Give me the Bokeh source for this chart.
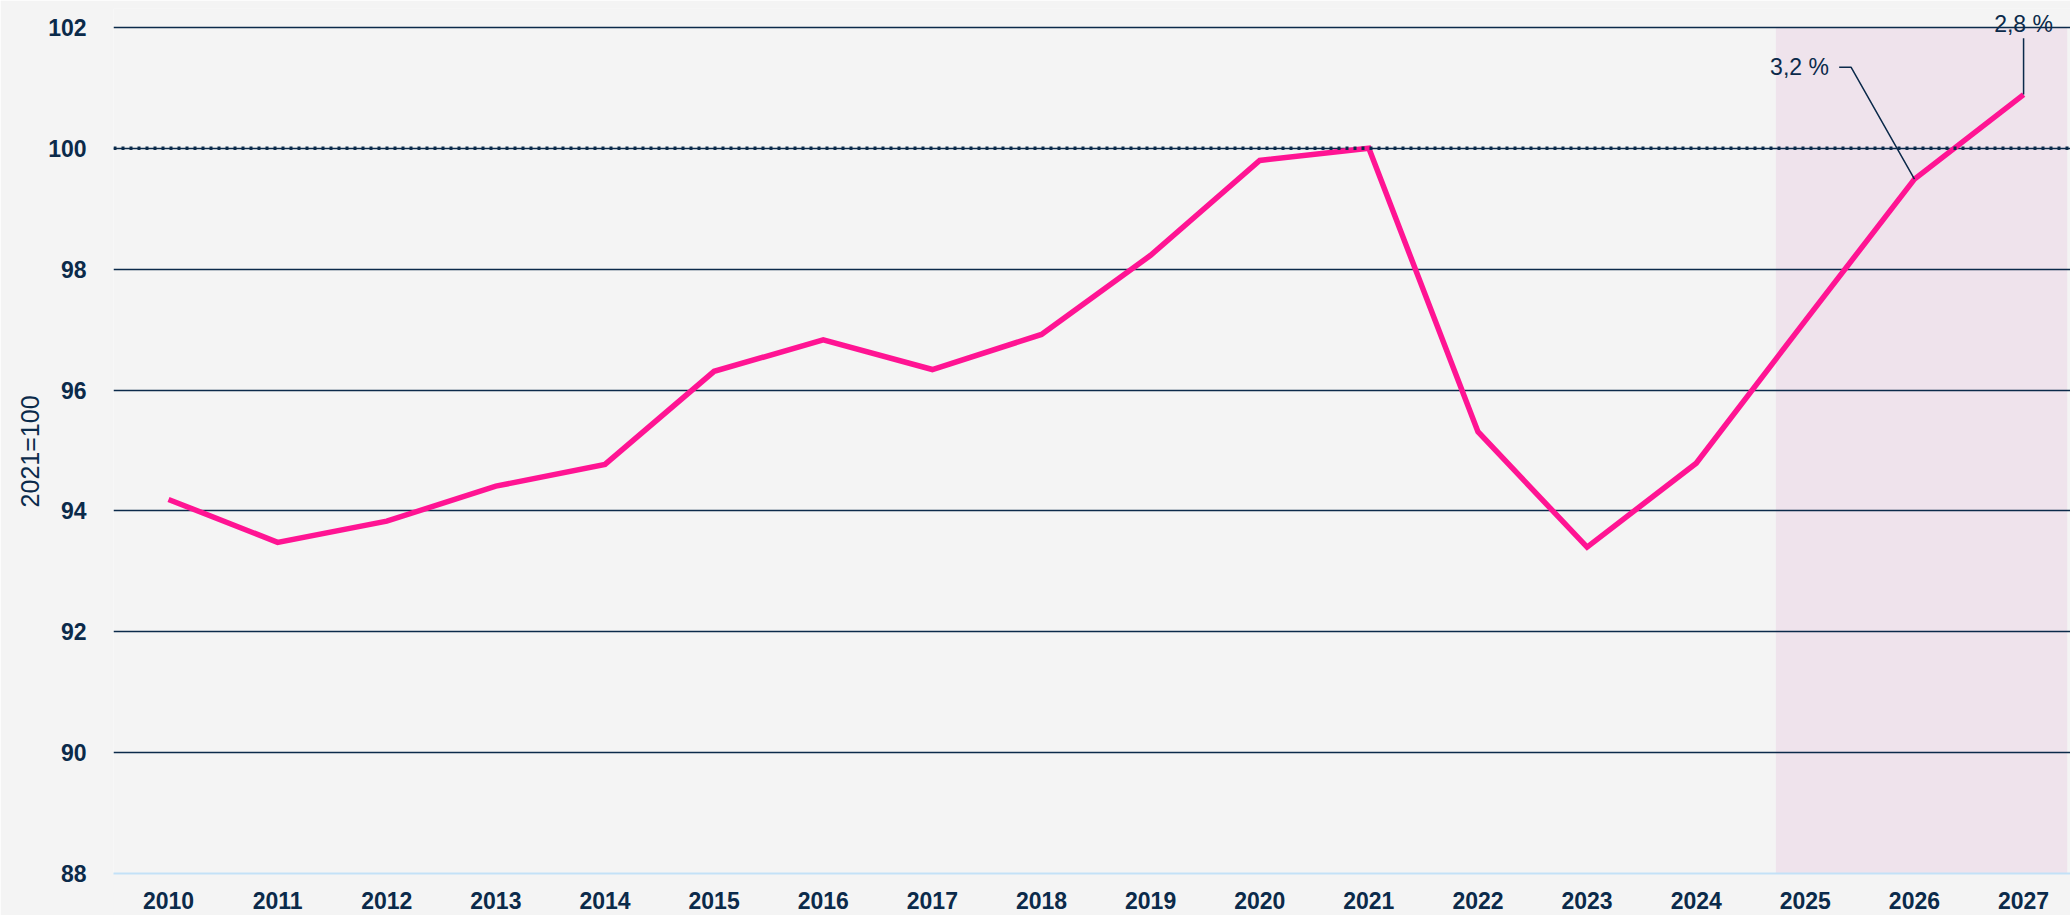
from bokeh.plotting import figure
from bokeh.models import (FixedTicker, Span, BoxAnnotation, Label, ColumnDataSource)
from bokeh.embed import file_html
from bokeh.resources import INLINE

# ---- data ----
years = [2010, 2011, 2012, 2013, 2014, 2015, 2016, 2017, 2018,
         2019, 2020, 2021, 2022, 2023, 2024, 2025, 2026, 2027]
index_values = [94.19, 93.48, 93.83, 94.41, 94.77, 96.31, 96.83, 96.34, 96.92,
                98.23, 99.80, 100.0, 95.31, 93.40, 94.79, 97.15, 99.49, 100.89]
y_ticks = [88, 90, 92, 94, 96, 98, 100, 102]
forecast_start = 2024.73
forecast_end = 2027.4
base_level = 100
y_axis_title = "2021=100"
ann_year_a, ann_text_a = 2026, "3,2 %"
ann_year_b, ann_text_b = 2027, "2,8 %"

NAVY = "#0b2a4a"
PINK = "#ff1493"
BG = "#f4f4f4"
FONT = "Liberation Sans"

p = figure(width=2070, height=915, output_backend="svg", toolbar_location=None,
           x_range=(2009.496, 2027.43), y_range=(88, 102.314),
           min_border_left=113, min_border_right=0, min_border_top=8,
           min_border_bottom=42)
p.background_fill_color = BG
p.border_fill_color = BG
p.outline_line_color = None

# forecast shading
p.add_layout(BoxAnnotation(left=forecast_start, right=forecast_end, bottom=88, top=102,
                           fill_color="#efe3ec", fill_alpha=1.0, line_color=None,
                           level="image"))

# axes
p.xaxis.ticker = FixedTicker(ticks=years)
p.yaxis.ticker = FixedTicker(ticks=y_ticks)
for ax in (p.xaxis[0], p.yaxis[0]):
    ax.major_label_text_font = FONT
    ax.major_label_text_font_style = "bold"
    ax.major_label_text_font_size = "23px"
    ax.major_label_text_color = NAVY
    ax.major_tick_line_color = None
    ax.minor_tick_line_color = None
p.xaxis.major_label_standoff = 12
p.xaxis.axis_line_color = "#c3e1f7"
p.xaxis.axis_line_width = 2
p.yaxis.axis_line_color = None
p.yaxis.major_label_standoff = 21
# trailing no-break spaces re-centre the rotated title on the 88-102 band
p.yaxis.axis_label = y_axis_title + "\u00a0\u00a0\u00a0"
p.yaxis.axis_label_text_font = FONT
p.yaxis.axis_label_text_font_style = "normal"
p.yaxis.axis_label_text_font_size = "25px"
p.yaxis.axis_label_text_color = NAVY
p.yaxis.axis_label_standoff = 1

# grids
p.xgrid.grid_line_color = None
p.ygrid.ticker = FixedTicker(ticks=[t for t in y_ticks if t > y_ticks[0]])
p.ygrid.grid_line_color = NAVY
p.ygrid.grid_line_width = 1.5

# dotted base line at 100
p.add_layout(Span(location=base_level, dimension="width", line_color=NAVY,
                  line_width=3.5, line_dash="3 5"))

# series
src = ColumnDataSource(dict(x=years, y=index_values))
p.line("x", "y", source=src, line_color=PINK, line_width=5.5, line_join="miter")

# annotations
ia = years.index(ann_year_a)
ib = years.index(ann_year_b)
xa, ya = years[ia], index_values[ia]
xb, yb = years[ib], index_values[ib]
label_a_y = 101.34
p.line([2025.31, 2025.42, xa], [label_a_y, label_a_y, ya], line_color=NAVY, line_width=1.5)
p.add_layout(Label(x=2025.216, y=label_a_y, text=ann_text_a, text_align="right",
                   text_baseline="middle", text_font=FONT, text_font_size="23px",
                   text_color=NAVY))
label_b_y = 102.05
p.line([xb, xb], [101.82, yb], line_color=NAVY, line_width=1.5)
p.add_layout(Label(x=xb, y=label_b_y, text=ann_text_b, text_align="center",
                   text_baseline="middle", text_font=FONT, text_font_size="23px",
                   text_color=NAVY))

open("out.html", "w").write(file_html(p, INLINE))
